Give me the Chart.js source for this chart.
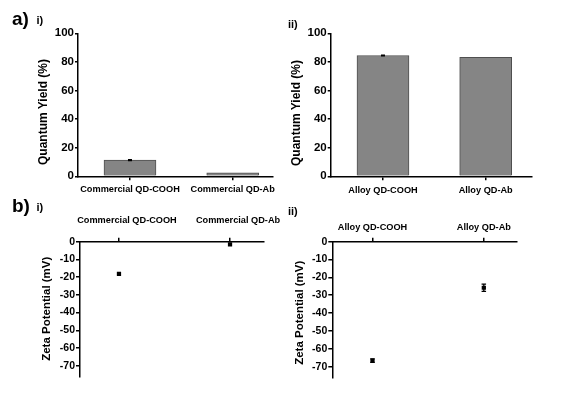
<!DOCTYPE html>
<html><head><meta charset="utf-8">
<script src="https://cdn.jsdelivr.net/npm/chart.js@4.4.1/dist/chart.umd.min.js"></script>
<style>
html,body{margin:0;padding:0;background:#fff;}
#wrap{position:relative;width:567px;height:403px;overflow:hidden;background:#fff;font-family:"Liberation Sans",Arial,sans-serif;font-weight:bold;color:#000;}
canvas{position:absolute;left:0;top:0;}
.lbl{position:absolute;white-space:nowrap;line-height:1;}
.yt{position:absolute;white-space:nowrap;line-height:1;text-align:center;transform:rotate(-90deg);}
</style></head>
<body><div id="wrap">
<canvas id="c1" width="567" height="403"></canvas>
<canvas id="c2" width="567" height="403"></canvas>
<canvas id="c3" width="567" height="403"></canvas>
<canvas id="c4" width="567" height="403"></canvas>
<div class="lbl" style="left:12px;top:9px;font-size:19px;">a)</div>
<div class="lbl" style="left:36.5px;top:15px;font-size:11px;">i)</div>
<div class="lbl" style="left:288px;top:19px;font-size:11px;">ii)</div>
<div class="lbl" style="left:12px;top:196px;font-size:19px;">b)</div>
<div class="lbl" style="left:36.5px;top:201.7px;font-size:11px;">i)</div>
<div class="lbl" style="left:288px;top:206.4px;font-size:11px;">ii)</div>
<div class="yt" style="left:-27px;top:105.7px;width:140px;font-size:12px;">Quantum Yield (%)</div>
<div class="yt" style="left:226px;top:107px;width:140px;font-size:12px;">Quantum Yield (%)</div>
<div class="yt" style="left:-23.5px;top:303px;width:140px;font-size:11.5px;">Zeta Potential (mV)</div>
<div class="yt" style="left:229.5px;top:306.7px;width:140px;font-size:11.5px;">Zeta Potential (mV)</div>
</div>
<script>
// ---- data ----
const qyCategoriesI = ["Commercial QD-COOH", "Commercial QD-Ab"];
const qyCategoriesII = ["Alloy QD-COOH", "Alloy QD-Ab"];
const qyValuesI = [11.3, 2.5];
const qyErrorsI = [0.4, 0];
const qyValuesII = [84.5, 83.2];
const qyErrorsII = [0.3, 0];
const zpValuesI = [-18.1, -1.5];
const zpErrorsI = [0.4, 0.4];
const zpValuesII = [-66.6, -25.8];
const zpErrorsII = [1.0, 2.0];
const qyTicks = [0, 20, 40, 60, 80, 100];
const zpTicks = [0, -10, -20, -30, -40, -50, -60, -70];

const W = 567, H = 403, YW = 30, XH = 45;
const FONT = "'Liberation Sans', Arial, sans-serif";

function errPlugin(values, errors, cap, lw) {
  return {
    id: 'errbars',
    afterDatasetsDraw(chart) {
      const ctx = chart.ctx, x = chart.scales.x, y = chart.scales.y;
      ctx.save();
      ctx.strokeStyle = '#000';
      ctx.lineWidth = lw;
      values.forEach((v, i) => {
        const e = errors[i];
        if (!e) return;
        const px = x.getPixelForValue(i);
        const y1 = y.getPixelForValue(v + e), y2 = y.getPixelForValue(v - e);
        const c = cap / 2;
        ctx.beginPath();
        ctx.moveTo(px, y1); ctx.lineTo(px, y2);
        ctx.moveTo(px - c, y1); ctx.lineTo(px + c, y1);
        ctx.moveTo(px - c, y2); ctx.lineTo(px + c, y2);
        ctx.stroke();
      });
      ctx.restore();
    }
  };
}

function panel(id, o) {
  const a = o.area;
  const pad = o.xTop
    ? { left: a.l - YW, right: W - a.r, top: a.t - XH, bottom: H - a.b }
    : { left: a.l - YW, right: W - a.r, top: a.t, bottom: H - a.b - XH };
  const data = o.values.map((v, i) => ({ x: i, y: v }));
  const ds = o.bar
    ? { type: 'bar', data, backgroundColor: '#858585', borderColor: '#4f4f4f', borderWidth: 1, barThickness: 52 }
    : { type: 'scatter', data, pointStyle: 'rect', pointRadius: 3, backgroundColor: '#000', borderColor: '#000', borderWidth: 0 };
  new Chart(document.getElementById(id), {
    type: o.bar ? 'bar' : 'scatter',
    data: { datasets: [ds] },
    plugins: [errPlugin(o.values, o.errors, o.cap, 1.3)],
    options: {
      responsive: false, animation: false, devicePixelRatio: 1,
      layout: { padding: pad },
      plugins: { legend: { display: false }, tooltip: { enabled: false } },
      scales: {
        x: {
          type: 'linear', position: o.xTop ? 'top' : 'bottom',
          min: o.xmin, max: o.xmax, offset: false,
          afterBuildTicks: s => { s.ticks = o.cats.map((c, i) => ({ value: i })); },
          afterFit: s => { s.height = XH; },
          grid: { display: true, offset: false, drawOnChartArea: false, drawTicks: true, tickLength: 4, color: '#000', lineWidth: 1.5 },
          border: { display: true, color: '#000', width: 1.5 },
          ticks: {
            callback: (v, i) => o.cats[i], color: '#000', autoSkip: false, maxRotation: 0, minRotation: 0,
            padding: o.xPad, labelOffset: o.labelOffset || 0,
            font: { family: FONT, weight: 'bold', size: 9.2 }
          }
        },
        y: {
          min: o.ymin, max: o.ymax,
          afterBuildTicks: s => { s.ticks = o.yTicks.map(v => ({ value: v })); },
          afterFit: s => { s.width = YW; },
          grid: { display: true, drawOnChartArea: false, drawTicks: true, tickLength: o.ytl, color: '#000', lineWidth: 1.5 },
          border: { display: true, color: '#000', width: 1.5 },
          ticks: {
            callback: v => String(v), color: '#000', padding: 1,
            font: { family: FONT, weight: 'bold', size: o.ySize }
          }
        }
      }
    }
  });
}

panel('c1', { bar: true, cats: qyCategoriesI, values: qyValuesI, errors: qyErrorsI, cap: 4,
  area: { l: 78, t: 33.3, r: 273, b: 176.3 }, xmin: -0.506, xmax: 1.392, ymin: 0, ymax: 100,
  yTicks: qyTicks, ytl: 3, ySize: 11.5, xPad: 4 });
panel('c2', { bar: true, cats: qyCategoriesII, values: qyValuesII, errors: qyErrorsII, cap: 4,
  area: { l: 330.7, t: 33.3, r: 532, b: 176.3 }, xmin: -0.509, xmax: 1.451, ymin: 0, ymax: 100,
  yTicks: qyTicks, ytl: 3, ySize: 11.5, xPad: 4.7 });
panel('c3', { bar: false, xTop: true, cats: qyCategoriesI, values: zpValuesI, errors: zpErrorsI, cap: 4,
  area: { l: 80, t: 241.7, r: 264, b: 376.7 }, xmin: -0.351, xmax: 1.306, ymin: -76.2, ymax: 0,
  yTicks: zpTicks, ytl: 4, ySize: 10.5, xPad: 11.5, labelOffset: 8 });
panel('c4', { bar: false, xTop: true, cats: qyCategoriesII, values: zpValuesII, errors: zpErrorsII, cap: 4.5,
  area: { l: 332.3, t: 241.7, r: 517, b: 377.7 }, xmin: -0.361, xmax: 1.298, ymin: -76.2, ymax: 0,
  yTicks: zpTicks, ytl: 4, ySize: 10.5, xPad: 5.2 });
</script>
</body></html>
